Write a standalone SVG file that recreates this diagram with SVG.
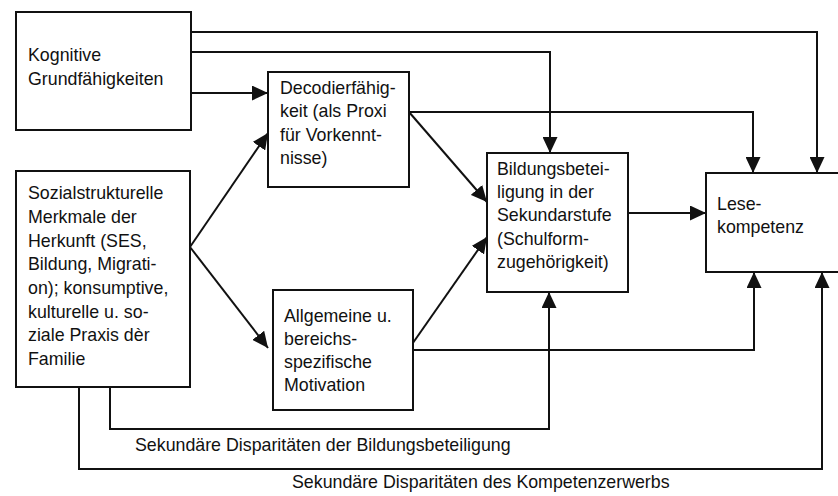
<svg xmlns="http://www.w3.org/2000/svg" width="838" height="496" viewBox="0 0 838 496">
<style>
.box{fill:#fff;stroke:#111;stroke-width:2}
.ln{fill:none;stroke:#111;stroke-width:2}
text{font-family:"Liberation Sans",Arial,sans-serif;font-size:17.8px;fill:#111}
</style>
<defs>
<marker id="ah" markerUnits="userSpaceOnUse" markerWidth="16" markerHeight="15" refX="16" refY="7.5" orient="auto">
<path d="M0,0 L16,7.5 L0,15 z" fill="#111"/>
</marker>
</defs>
<rect width="838" height="496" fill="#fff"/>
<g id="connectors">
<path class="ln" d="M191,32 H817 V173" marker-end="url(#ah)"/>
<path class="ln" d="M191,52 H550 V153" marker-end="url(#ah)"/>
<path class="ln" d="M191,93 H268" marker-end="url(#ah)"/>
<path class="ln" d="M190,247 L268,133" marker-end="url(#ah)"/>
<path class="ln" d="M190,247 L268,348" marker-end="url(#ah)"/>
<path class="ln" d="M409,112 H753 V173" marker-end="url(#ah)"/>
<path class="ln" d="M409,112 L487,202" marker-end="url(#ah)"/>
<path class="ln" d="M408,350 L487,237" marker-end="url(#ah)"/>
<path class="ln" d="M408,350 H754 V272" marker-end="url(#ah)"/>
<path class="ln" d="M628,213 H706" marker-end="url(#ah)"/>
<path class="ln" d="M110,387 V429 H549 V292" marker-end="url(#ah)"/>
<path class="ln" d="M79,387 V469 H822 V272" marker-end="url(#ah)"/>
</g>
<g id="kognitive">
<rect class="box" x="16" y="12" width="175" height="118"/>
<text x="28" y="61">Kognitive</text>
<text x="28" y="85">Grundfähigkeiten</text>
</g>
<g id="sozial">
<rect class="box" x="16" y="171" width="174" height="216"/>
<text x="28" y="199">Sozialstrukturelle</text>
<text x="28" y="223">Merkmale der</text>
<text x="28" y="247">Herkunft (SES,</text>
<text x="28" y="270">Bildung, Migrati-</text>
<text x="28" y="294">on); konsumptive,</text>
<text x="28" y="318">kulturelle u. so-</text>
<text x="28" y="341">ziale Praxis dèr</text>
<text x="28" y="365">Familie</text>
</g>
<g id="decodier">
<rect class="box" x="268" y="72" width="141" height="115"/>
<text x="280" y="94">Decodierfähig-</text>
<text x="280" y="117">keit (als Proxi</text>
<text x="280" y="141">für Vorkennt-</text>
<text x="280" y="164">nisse)</text>
</g>
<g id="motivation">
<rect class="box" x="273" y="290" width="140" height="120"/>
<text x="284" y="322">Allgemeine u.</text>
<text x="284" y="345">bereichs-</text>
<text x="284" y="368">spezifische</text>
<text x="284" y="391">Motivation</text>
</g>
<g id="bildung">
<rect class="box" x="487" y="153" width="141" height="139"/>
<text x="497" y="175">Bildungsbetei-</text>
<text x="497" y="198">ligung in der</text>
<text x="497" y="221">Sekundarstufe</text>
<text x="497" y="245">(Schulform-</text>
<text x="497" y="268">zugehörigkeit)</text>
</g>
<g id="lese">
<rect class="box" x="706" y="173" width="145" height="99"/>
<text x="717" y="210">Lese-</text>
<text x="717" y="233">kompetenz</text>
</g>
<g id="labels">
<text x="135" y="451">Sekundäre Disparitäten der Bildungsbeteiligung</text>
<text x="292" y="488">Sekundäre Disparitäten des Kompetenzerwerbs</text>
</g>
</svg>
